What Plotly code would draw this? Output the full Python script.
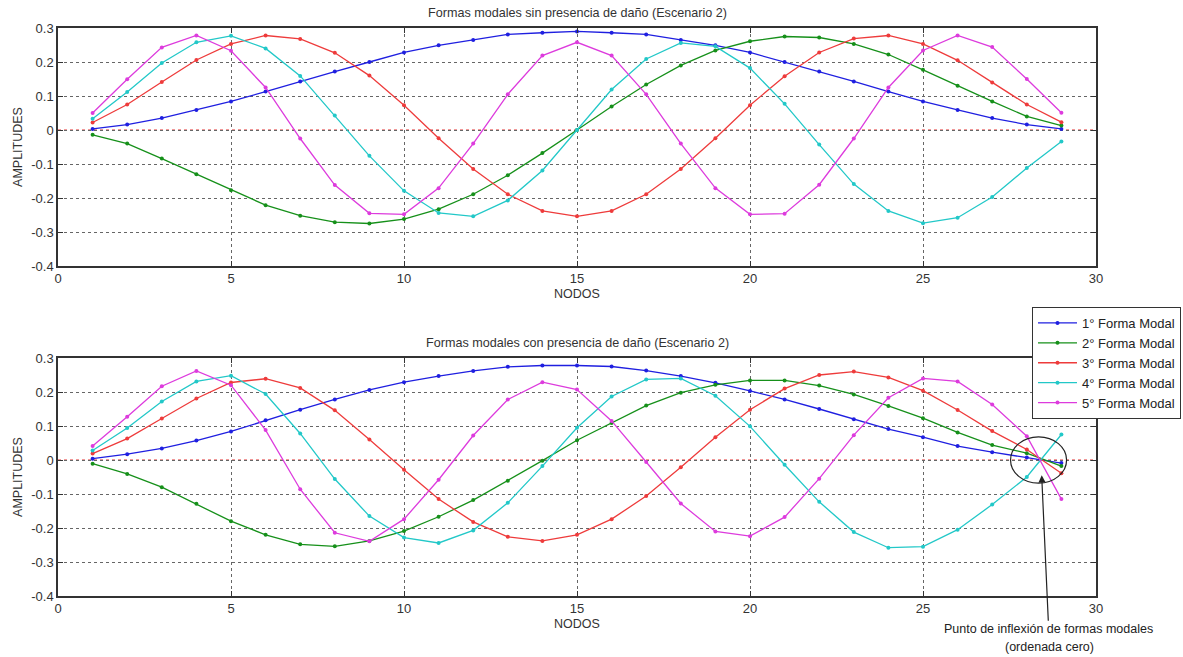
import plotly.graph_objects as go

W, H = 1183, 657
nodes = list(range(1, 30))

# Top: sin presencia de daño
top_m1 = [0.003, 0.016, 0.035, 0.059, 0.084, 0.113, 0.143, 0.172, 0.200, 0.228, 0.249, 0.265, 0.281, 0.286, 0.290,
          0.286, 0.281, 0.265, 0.249, 0.228, 0.200, 0.172, 0.143, 0.113, 0.084, 0.059, 0.035, 0.016, 0.003]
top_m2 = [-0.014, -0.040, -0.084, -0.130, -0.177, -0.221, -0.252, -0.271, -0.275, -0.262, -0.233, -0.189, -0.133, -0.068, 0.000,
          0.069, 0.134, 0.190, 0.234, 0.261, 0.275, 0.272, 0.253, 0.222, 0.177, 0.130, 0.084, 0.040, 0.013]
top_m3 = [0.022, 0.075, 0.141, 0.206, 0.253, 0.278, 0.268, 0.227, 0.160, 0.073, -0.024, -0.115, -0.189, -0.238, -0.254,
          -0.238, -0.189, -0.115, -0.024, 0.073, 0.158, 0.228, 0.269, 0.278, 0.253, 0.205, 0.140, 0.075, 0.023]
top_m4 = [0.033, 0.112, 0.197, 0.258, 0.277, 0.240, 0.159, 0.043, -0.076, -0.179, -0.244, -0.254, -0.207, -0.119, 0.000,
          0.119, 0.209, 0.256, 0.246, 0.182, 0.077, -0.043, -0.159, -0.238, -0.274, -0.258, -0.197, -0.112, -0.034]
top_m5 = [0.050, 0.149, 0.243, 0.278, 0.233, 0.125, -0.025, -0.162, -0.245, -0.248, -0.171, -0.040, 0.105, 0.219, 0.258,
          0.219, 0.105, -0.040, -0.171, -0.248, -0.246, -0.161, -0.025, 0.125, 0.234, 0.278, 0.244, 0.150, 0.051]

# Bottom: con presencia de daño
bot_m1 = [0.004, 0.017, 0.034, 0.057, 0.084, 0.117, 0.148, 0.178, 0.206, 0.229, 0.247, 0.262, 0.274, 0.278, 0.278,
          0.275, 0.263, 0.247, 0.227, 0.203, 0.178, 0.150, 0.120, 0.091, 0.067, 0.041, 0.023, 0.007, -0.009]
bot_m2 = [-0.011, -0.041, -0.080, -0.129, -0.180, -0.220, -0.248, -0.254, -0.238, -0.209, -0.167, -0.118, -0.061, -0.002, 0.058,
          0.109, 0.160, 0.198, 0.221, 0.234, 0.234, 0.219, 0.193, 0.159, 0.123, 0.081, 0.044, 0.020, -0.018]
bot_m3 = [0.019, 0.063, 0.122, 0.181, 0.228, 0.239, 0.212, 0.146, 0.060, -0.029, -0.115, -0.182, -0.226, -0.238, -0.220,
          -0.174, -0.106, -0.021, 0.067, 0.148, 0.210, 0.250, 0.260, 0.243, 0.204, 0.147, 0.085, 0.031, -0.039]
bot_m4 = [0.028, 0.094, 0.172, 0.231, 0.248, 0.194, 0.078, -0.056, -0.165, -0.228, -0.244, -0.207, -0.126, -0.018, 0.095,
          0.187, 0.237, 0.240, 0.189, 0.099, -0.014, -0.123, -0.212, -0.258, -0.255, -0.205, -0.131, -0.050, 0.075]
bot_m5 = [0.041, 0.127, 0.217, 0.262, 0.220, 0.088, -0.086, -0.214, -0.239, -0.174, -0.058, 0.072, 0.178, 0.229, 0.207,
          0.115, -0.006, -0.128, -0.210, -0.224, -0.168, -0.055, 0.073, 0.183, 0.240, 0.231, 0.163, 0.070, -0.115]

names = ["1° Forma Modal", "2° Forma Modal", "3° Forma Modal", "4° Forma Modal", "5° Forma Modal"]
colors = ["#1f1fe0", "#16901a", "#ee3b3b", "#22c8c8", "#dd3bdd"]
x_ticks = [0, 5, 10, 15, 20, 25, 30]
y_ticks = [-0.4, -0.3, -0.2, -0.1, 0, 0.1, 0.2, 0.3]
y_tick_text = ["-0.4", "-0.3", "-0.2", "-0.1", "0", "0.1", "0.2", "0.3"]

FONT = "Liberation Sans, Arial, sans-serif"
fig = go.Figure()

for series, xa, ya, show in [((top_m1, top_m2, top_m3, top_m4, top_m5), "x", "y", False),
                             ((bot_m1, bot_m2, bot_m3, bot_m4, bot_m5), "x2", "y2", True)]:
    for vals, name, col in zip(series, names, colors):
        fig.add_trace(go.Scatter(x=nodes, y=vals, mode="lines+markers", name=name,
                                 line=dict(color=col, width=1.3), marker=dict(color=col, size=4),
                                 xaxis=xa, yaxis=ya, showlegend=show))


def px2x(p):
    return p / W


def px2y(p):
    return 1 - p / H


axis_common = dict(range=[0, 30], tickvals=x_ticks, showline=True, linecolor="#333", linewidth=1.5,
                   mirror="ticks", ticks="inside", ticklen=5, tickcolor="#333", automargin=False,
                   showgrid=True, gridcolor="#666", griddash="dot", gridwidth=1, zeroline=False,
                   tickfont=dict(family=FONT, size=13, color="#333"))
yaxis_common = dict(range=[-0.4, 0.3], tickvals=y_ticks, ticktext=y_tick_text, showline=True, linecolor="#333",
                    linewidth=1.5, mirror="ticks", ticks="inside", ticklen=5, tickcolor="#333", automargin=False,
                    showgrid=True, gridcolor="#666", griddash="dot", gridwidth=1, zeroline=False,
                    tickfont=dict(family=FONT, size=13, color="#333"))

xd = [px2x(58), px2x(1096)]
fig.update_layout(
    width=W, height=H, margin=dict(l=0, r=0, t=0, b=0, pad=0, autoexpand=False),
    paper_bgcolor="white", plot_bgcolor="white",
    xaxis=dict(domain=xd, anchor="y",
               title=dict(text="NODOS", font=dict(family=FONT, size=12.5, color="#333"), standoff=4),
               **axis_common),
    yaxis=dict(domain=[px2y(266), px2y(28)], anchor="x",
               title=dict(text="AMPLITUDES", font=dict(family=FONT, size=12.5, color="#333"), standoff=6),
               **yaxis_common),
    xaxis2=dict(domain=xd, anchor="y2",
                title=dict(text="NODOS", font=dict(family=FONT, size=12.5, color="#333"), standoff=4),
                **axis_common),
    yaxis2=dict(domain=[px2y(596), px2y(358)], anchor="x2",
                title=dict(text="AMPLITUDES", font=dict(family=FONT, size=12.5, color="#333"), standoff=6),
                **yaxis_common),
    legend=dict(x=px2x(1181), y=px2y(307), xanchor="right", yanchor="top",
                bgcolor="white", bordercolor="#333", borderwidth=1,
                font=dict(family=FONT, size=13, color="#222"), tracegroupgap=0, itemwidth=39),
    showlegend=True,
)

# Red dotted zero lines
for xr, yr in [("x", "y"), ("x2", "y2")]:
    fig.add_shape(type="line", xref=xr, yref=yr, x0=0, x1=30, y0=0, y1=0,
                  line=dict(color="#e03030", width=1, dash="dot"), layer="below")

# Ellipse around the zero-crossing point
fig.add_shape(type="circle", xref="x2", yref="y2", x0=27.53, x1=29.15, y0=-0.068, y1=0.068,
              line=dict(color="#222", width=1.2))

# Titles
fig.add_annotation(x=px2x(577), y=px2y(13), xref="paper", yref="paper", showarrow=False,
                   xanchor="center", yanchor="middle",
                   text="Formas modales sin presencia de daño (Escenario 2)",
                   font=dict(family=FONT, size=12.6, color="#333"))
fig.add_annotation(x=px2x(577), y=px2y(343), xref="paper", yref="paper", showarrow=False,
                   xanchor="center", yanchor="middle",
                   text="Formas modales con presencia de daño (Escenario 2)",
                   font=dict(family=FONT, size=12.6, color="#333"))

# Arrow annotation (first line carries the arrow)
fig.add_annotation(x=28.43, y=-0.045, xref="x2", yref="y2",
                   text="Punto de inflexión de formas modales",
                   showarrow=True, arrowhead=2, arrowsize=1.2, arrowwidth=1.2, arrowcolor="#222",
                   ax=7, ay=154, axref="pixel", ayref="pixel",
                   font=dict(family=FONT, size=12.5, color="#222"))
fig.add_annotation(x=px2x(1049), y=px2y(647), xref="paper", yref="paper", showarrow=False,
                   xanchor="center", yanchor="middle", text="(ordenada cero)",
                   font=dict(family=FONT, size=12.5, color="#222"))

fig.write_html("out.html")
